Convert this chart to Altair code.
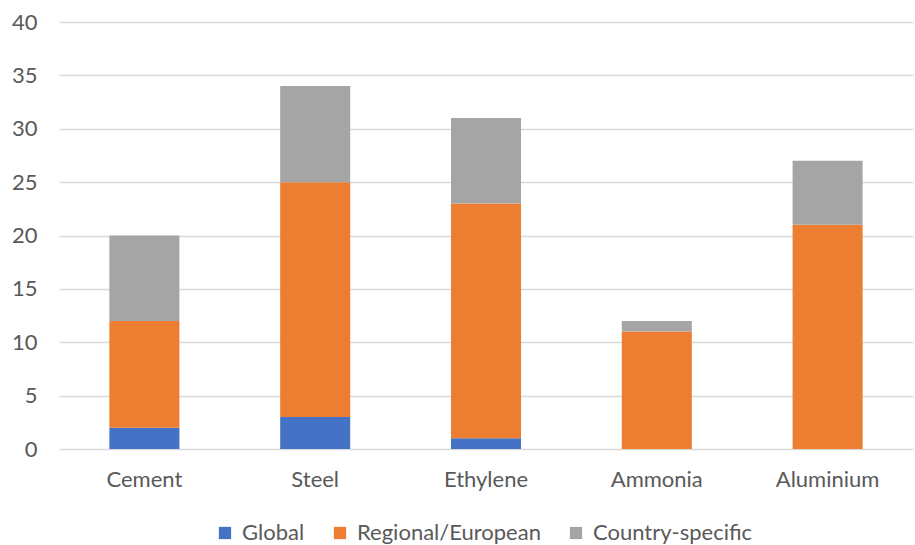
import altair as alt
import pandas as pd

categories = ["Cement", "Steel", "Ethylene", "Ammonia", "Aluminium"]
series = ["Global", "Regional/European", "Country-specific"]
global_vals = [2, 3, 1, 0, 0]
regional_vals = [10, 22, 22, 11, 21]
country_vals = [8, 9, 8, 1, 6]
colors = ["#4472C4", "#ED7D31", "#A5A5A5"]

rows = []
for i, c in enumerate(categories):
    for k, (s, vals) in enumerate(zip(series, [global_vals, regional_vals, country_vals])):
        rows.append({"category": c, "series": s, "value": vals[i], "order": k})
df = pd.DataFrame(rows)

font = "Lato"
fs = 22

chart = alt.Chart(df).mark_bar().encode(
    x=alt.X("category:N", sort=categories, title=None,
            scale=alt.Scale(paddingInner=0.59, paddingOuter=0.295),
            axis=alt.Axis(labelAngle=0, ticks=False, domain=False, labelPadding=20,
                          labelFontSize=fs, labelColor="#595959", labelFont=font, grid=False)),
    y=alt.Y("value:Q", stack="zero", title=None,
            scale=alt.Scale(domain=[0, 40], nice=False),
            axis=alt.Axis(values=list(range(0, 41, 5)), ticks=False, domain=False,
                          labelPadding=22, labelFontSize=fs, labelColor="#595959",
                          labelFont=font, gridColor="#D9D9D9", gridWidth=1.3)),
    color=alt.Color("series:N", sort=series, scale=alt.Scale(domain=series, range=colors),
                    legend=alt.Legend(title=None, orient="none", direction="horizontal",
                                      legendX=155, legendY=500, symbolType="square",
                                      symbolSize=150, symbolStrokeWidth=0, labelFontSize=fs,
                                      labelColor="#595959", labelFont=font, columnPadding=24,
                                      labelOffset=6, labelLimit=400)),
    order=alt.Order("order:Q"),
).properties(
    width=854, height=427,
    autosize=alt.AutoSizeParams(type="none"),
    padding={"left": 59, "top": 22, "right": 2, "bottom": 96},
    view=alt.ViewBackground(stroke="transparent", strokeWidth=0),
).configure(background="white", view=alt.ViewConfig(stroke="transparent", strokeWidth=0))

chart.save("out.html", embed_options={"renderer": "svg", "actions": False})
